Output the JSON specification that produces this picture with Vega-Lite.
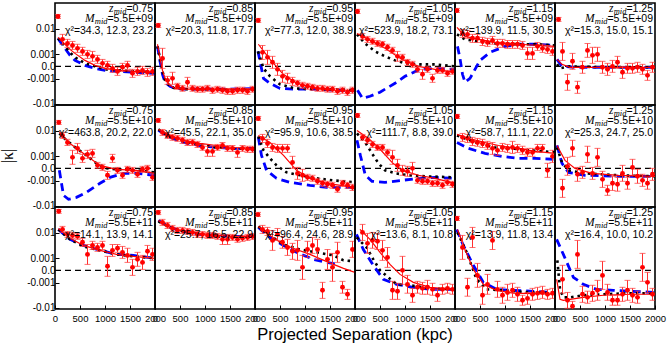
{
"$schema":"https://vega.github.io/schema/vega-lite/v6.json",
"padding":{"left":0,"top":2,"right":8,"bottom":2},
"config":{"view":{"stroke":"black","strokeWidth":1.6},"font":"Liberation Sans"},
"data":{"values":[
{"r":0,"c":0,"x":60,"y":0.0258,"l":0.0223,"h":0.030},{"r":0,"c":0,"x":150,"y":0.0043,"l":0.0028,"h":0.0065},{"r":0,"c":0,"x":250,"y":0.0030,"l":0.0021,"h":0.0043},{"r":0,"c":0,"x":350,"y":0.0025,"l":0.00171,"h":0.0036},{"r":0,"c":0,"x":450,"y":0.0019,"l":0.00124,"h":0.0028},{"r":0,"c":0,"x":550,"y":0.00138,"l":0.00086,"h":0.0021},{"r":0,"c":0,"x":650,"y":0.00098,"l":0.00055,"h":0.00154},{"r":0,"c":0,"x":750,"y":0.00075,"l":0.00031,"h":0.00138},{"r":0,"c":0,"x":850,"y":0.00046,"l":0.00017,"h":0.00086},{"r":0,"c":0,"x":950,"y":0.00017,"l":-0.00005,"h":0.00046},{"r":0,"c":0,"x":1050,"y":0.00005,"l":-0.00017,"h":0.00031},{"r":0,"c":0,"x":1150,"y":-0.00011,"l":-0.00038,"h":0.00011},{"r":0,"c":0,"x":1250,"y":-0.00031,"l":-0.00065,"h":-0.00005},{"r":0,"c":0,"x":1350,"y":-0.00005,"l":-0.00031,"h":0.00017},{"r":0,"c":0,"x":1450,"y":0.00005,"l":-0.00017,"h":0.00031},{"r":0,"c":0,"x":1550,"y":-0.00046,"l":-0.00086,"h":-0.00017},{"r":0,"c":0,"x":1650,"y":-0.00031,"l":-0.00065,"h":-0.00005},{"r":0,"c":0,"x":1750,"y":-0.00024,"l":-0.00055,"h":0},{"r":0,"c":0,"x":1850,"y":-0.00038,"l":-0.00075,"h":-0.00011},{"r":0,"c":0,"x":1950,"y":-0.00031,"l":-0.00065,"h":-0.00005,"zt":"=0.75","mt":"=5.5E+09","ch":"χ²=34.3, 12.3, 23.2"},
{"r":0,"c":1,"x":65,"y":0.0131,"l":0.0112,"h":0.0153},{"r":0,"c":1,"x":150,"y":0.00055,"l":-0.00011,"h":0.0019},{"r":0,"c":1,"x":250,"y":-0.00124,"l":-0.0019,"h":-0.00075},{"r":0,"c":1,"x":350,"y":-0.00098,"l":-0.0019,"h":-0.00038},{"r":0,"c":1,"x":450,"y":-0.0023,"l":-0.0030,"h":-0.00171},{"r":0,"c":1,"x":550,"y":-0.0028,"l":-0.0036,"h":-0.0021},{"r":0,"c":1,"x":650,"y":-0.00154,"l":-0.0025,"h":-0.00086},{"r":0,"c":1,"x":750,"y":-0.0028,"l":-0.0036,"h":-0.0021},{"r":0,"c":1,"x":850,"y":-0.0030,"l":-0.0039,"h":-0.0023},{"r":0,"c":1,"x":950,"y":-0.0030,"l":-0.0039,"h":-0.0023},{"r":0,"c":1,"x":1050,"y":-0.0028,"l":-0.0036,"h":-0.0021},{"r":0,"c":1,"x":1150,"y":-0.0033,"l":-0.0043,"h":-0.0025},{"r":0,"c":1,"x":1250,"y":-0.0030,"l":-0.0039,"h":-0.0023},{"r":0,"c":1,"x":1350,"y":-0.0033,"l":-0.0043,"h":-0.0025},{"r":0,"c":1,"x":1450,"y":-0.0036,"l":-0.0047,"h":-0.0028},{"r":0,"c":1,"x":1550,"y":-0.0036,"l":-0.0047,"h":-0.0028},{"r":0,"c":1,"x":1650,"y":-0.0033,"l":-0.0043,"h":-0.0025},{"r":0,"c":1,"x":1750,"y":-0.0033,"l":-0.0043,"h":-0.0025},{"r":0,"c":1,"x":1850,"y":-0.0036,"l":-0.0047,"h":-0.0028},{"r":0,"c":1,"x":1950,"y":-0.0030,"l":-0.0039,"h":-0.0023,"zt":"=0.85","mt":"=5.5E+09","ch":"χ²=20.3, 11.8, 17.7"},
{"r":0,"c":2,"x":65,"y":0.0192,"l":0.0165,"h":0.0223},{"r":0,"c":2,"x":150,"y":0.00124,"l":0.00046,"h":0.0025},{"r":0,"c":2,"x":250,"y":0.00065,"l":0.00011,"h":0.00154},{"r":0,"c":2,"x":350,"y":0.00024,"l":-0.00011,"h":0.00075},{"r":0,"c":2,"x":450,"y":-0.00017,"l":-0.00065,"h":0.00017},{"r":0,"c":2,"x":550,"y":-0.00075,"l":-0.00154,"h":-0.00024},{"r":0,"c":2,"x":650,"y":-0.00098,"l":-0.00171,"h":-0.00046},{"r":0,"c":2,"x":750,"y":-0.00138,"l":-0.0021,"h":-0.00086},{"r":0,"c":2,"x":850,"y":-0.00171,"l":-0.0023,"h":-0.00124},{"r":0,"c":2,"x":950,"y":-0.0021,"l":-0.0028,"h":-0.00154},{"r":0,"c":2,"x":1050,"y":-0.0023,"l":-0.0030,"h":-0.00171},{"r":0,"c":2,"x":1150,"y":-0.0025,"l":-0.0033,"h":-0.0019},{"r":0,"c":2,"x":1250,"y":-0.0028,"l":-0.0036,"h":-0.0021},{"r":0,"c":2,"x":1350,"y":-0.0028,"l":-0.0036,"h":-0.0021},{"r":0,"c":2,"x":1450,"y":-0.0030,"l":-0.0039,"h":-0.0023},{"r":0,"c":2,"x":1550,"y":-0.0030,"l":-0.0039,"h":-0.0023},{"r":0,"c":2,"x":1650,"y":-0.0036,"l":-0.0047,"h":-0.0028},{"r":0,"c":2,"x":1750,"y":-0.0033,"l":-0.0043,"h":-0.0025},{"r":0,"c":2,"x":1850,"y":-0.0039,"l":-0.0051,"h":-0.0030},{"r":0,"c":2,"x":1950,"y":-0.0033,"l":-0.0043,"h":-0.0025,"zt":"=0.95","mt":"=5.5E+09","ch":"χ²=77.3, 12.0, 38.9"},
{"r":0,"c":3,"x":50,"y":0.0375,"l":0.0323,"h":0.044},{"r":0,"c":3,"x":150,"y":0.0055,"l":0.0043,"h":0.0070},{"r":0,"c":3,"x":250,"y":0.0043,"l":0.0033,"h":0.0055},{"r":0,"c":3,"x":350,"y":0.0036,"l":0.0028,"h":0.0047},{"r":0,"c":3,"x":450,"y":0.0030,"l":0.0023,"h":0.0039},{"r":0,"c":3,"x":550,"y":0.0028,"l":0.0021,"h":0.0036},{"r":0,"c":3,"x":650,"y":0.0021,"l":0.00154,"h":0.0028},{"r":0,"c":3,"x":750,"y":0.00154,"l":0.0011,"h":0.0021},{"r":0,"c":3,"x":850,"y":0.00075,"l":0.00031,"h":0.00138},{"r":0,"c":3,"x":950,"y":0.00065,"l":0.00038,"h":0.00098},{"r":0,"c":3,"x":1050,"y":0.00024,"l":0.00005,"h":0.00046},{"r":0,"c":3,"x":1150,"y":0.00011,"l":-0.00005,"h":0.00031},{"r":0,"c":3,"x":1250,"y":-0.00017,"l":-0.00038,"h":0},{"r":0,"c":3,"x":1350,"y":-0.00055,"l":-0.0011,"h":-0.00017},{"r":0,"c":3,"x":1450,"y":-0.00017,"l":-0.00038,"h":0},{"r":0,"c":3,"x":1550,"y":-0.00098,"l":-0.00154,"h":-0.00055},{"r":0,"c":3,"x":1650,"y":-0.00024,"l":-0.00046,"h":-0.00005},{"r":0,"c":3,"x":1750,"y":-0.00024,"l":-0.00046,"h":-0.00005},{"r":0,"c":3,"x":1850,"y":-0.00046,"l":-0.00075,"h":-0.00024},{"r":0,"c":3,"x":1950,"y":-0.00031,"l":-0.00055,"h":-0.00011,"zt":"=1.05","mt":"=5.5E+09","ch":"χ²=523.9, 18.2, 73.1"},
{"r":0,"c":4,"x":40,"y":0.040,"l":0.035,"h":0.047},{"r":0,"c":4,"x":150,"y":0.0070,"l":0.0051,"h":0.0096},{"r":0,"c":4,"x":250,"y":0.0065,"l":0.0047,"h":0.0089},{"r":0,"c":4,"x":350,"y":0.0047,"l":0.0033,"h":0.0065},{"r":0,"c":4,"x":450,"y":0.0047,"l":0.0033,"h":0.0065},{"r":0,"c":4,"x":550,"y":0.0036,"l":0.0025,"h":0.0051},{"r":0,"c":4,"x":650,"y":0.0033,"l":0.0023,"h":0.0047},{"r":0,"c":4,"x":750,"y":0.0039,"l":0.0028,"h":0.0055},{"r":0,"c":4,"x":850,"y":0.0030,"l":0.0021,"h":0.0043},{"r":0,"c":4,"x":950,"y":0.0030,"l":0.0021,"h":0.0043},{"r":0,"c":4,"x":1050,"y":0.0028,"l":0.0019,"h":0.0039},{"r":0,"c":4,"x":1150,"y":0.0028,"l":0.0019,"h":0.0039},{"r":0,"c":4,"x":1250,"y":0.0028,"l":0.0019,"h":0.0039},{"r":0,"c":4,"x":1350,"y":0.0025,"l":0.00171,"h":0.0036},{"r":0,"c":4,"x":1450,"y":0.0011,"l":0.00046,"h":0.0021},{"r":0,"c":4,"x":1550,"y":0.0011,"l":0.00046,"h":0.0021},{"r":0,"c":4,"x":1650,"y":0.0023,"l":0.00154,"h":0.0033},{"r":0,"c":4,"x":1750,"y":0.0019,"l":0.00124,"h":0.0028},{"r":0,"c":4,"x":1850,"y":0.00171,"l":0.0011,"h":0.0025},{"r":0,"c":4,"x":1950,"y":0.00138,"l":0.00086,"h":0.0021,"zt":"=1.15","mt":"=5.5E+09","ch":"χ²=139.9, 11.5, 30.5"},
{"r":0,"c":5,"x":70,"y":0.0207,"l":0.0178,"h":0.024},{"r":0,"c":5,"x":150,"y":0.00138,"l":0.00038,"h":0.0033},{"r":0,"c":5,"x":250,"y":-0.00154,"l":-0.0033,"h":-0.00055},{"r":0,"c":5,"x":350,"y":0.00031,"l":-0.00017,"h":0.0011},{"r":0,"c":5,"x":450,"y":-0.0025,"l":-0.0043,"h":-0.00138},{"r":0,"c":5,"x":550,"y":-0.00005,"l":-0.00046,"h":0.00031},{"r":0,"c":5,"x":650,"y":0.00154,"l":0.00065,"h":0.0030},{"r":0,"c":5,"x":750,"y":0.00086,"l":0.00017,"h":0.0021},{"r":0,"c":5,"x":850,"y":0.00098,"l":0.00031,"h":0.0021},{"r":0,"c":5,"x":950,"y":-0.00005,"l":-0.00046,"h":0.00031},{"r":0,"c":5,"x":1050,"y":-0.00017,"l":-0.00065,"h":0.00017},{"r":0,"c":5,"x":1150,"y":0,"l":-0.00038,"h":0.00038},{"r":0,"c":5,"x":1250,"y":0.00024,"l":-0.00011,"h":0.00075},{"r":0,"c":5,"x":1350,"y":-0.00038,"l":-0.00098,"h":0},{"r":0,"c":5,"x":1450,"y":-0.00011,"l":-0.00046,"h":0.00017},{"r":0,"c":5,"x":1550,"y":-0.00011,"l":-0.00046,"h":0.00017},{"r":0,"c":5,"x":1650,"y":-0.00005,"l":-0.00038,"h":0.00024},{"r":0,"c":5,"x":1750,"y":-0.00017,"l":-0.00055,"h":0.00011},{"r":0,"c":5,"x":1850,"y":-0.00065,"l":-0.00124,"h":-0.00024},{"r":0,"c":5,"x":1950,"y":-0.00005,"l":-0.00038,"h":0.00024,"zt":"=1.25","mt":"=5.5E+09","ch":"χ²=15.3, 15.0, 15.1"},
{"r":1,"c":0,"x":75,"y":0.0192,"l":0.0165,"h":0.0223},{"r":1,"c":0,"x":150,"y":0.0070,"l":0.0055,"h":0.0089},{"r":1,"c":0,"x":250,"y":0.0039,"l":0.0030,"h":0.0051},{"r":1,"c":0,"x":350,"y":0.00086,"l":0.00024,"h":0.0019},{"r":1,"c":0,"x":450,"y":0.0023,"l":0.00138,"h":0.0036},{"r":1,"c":0,"x":550,"y":0.00075,"l":0.00038,"h":0.00124},{"r":1,"c":0,"x":650,"y":0.00124,"l":0.00075,"h":0.0019},{"r":1,"c":0,"x":750,"y":0.00138,"l":0.00086,"h":0.0021},{"r":1,"c":0,"x":850,"y":0.00017,"l":0,"h":0.00038},{"r":1,"c":0,"x":950,"y":0.00005,"l":-0.00011,"h":0.00024},{"r":1,"c":0,"x":1050,"y":-0.00046,"l":-0.00086,"h":-0.00017},{"r":1,"c":0,"x":1150,"y":0.00075,"l":0.00038,"h":0.00124},{"r":1,"c":0,"x":1250,"y":-0.00011,"l":-0.00031,"h":0.00005},{"r":1,"c":0,"x":1350,"y":-0.00046,"l":-0.00075,"h":-0.00024},{"r":1,"c":0,"x":1450,"y":-0.00005,"l":-0.00024,"h":0.00011},{"r":1,"c":0,"x":1550,"y":-0.00011,"l":-0.00031,"h":0.00005},{"r":1,"c":0,"x":1650,"y":-0.00038,"l":-0.00065,"h":-0.00017},{"r":1,"c":0,"x":1750,"y":-0.00005,"l":-0.00024,"h":0.00011},{"r":1,"c":0,"x":1850,"y":0,"l":-0.00017,"h":0.00017},{"r":1,"c":0,"x":1950,"y":-0.00065,"l":-0.00098,"h":-0.00038,"zt":"=0.75","mt":"=5.5E+10","ch":"χ²=463.8, 20.2, 22.0"},
{"r":1,"c":1,"x":65,"y":0.0223,"l":0.0192,"h":0.0258},{"r":1,"c":1,"x":150,"y":0.0089,"l":0.0070,"h":0.0112},{"r":1,"c":1,"x":250,"y":0.0070,"l":0.0055,"h":0.0089},{"r":1,"c":1,"x":350,"y":0.0060,"l":0.0047,"h":0.0076},{"r":1,"c":1,"x":450,"y":0.0055,"l":0.0043,"h":0.0070},{"r":1,"c":1,"x":550,"y":0.0047,"l":0.0036,"h":0.0060},{"r":1,"c":1,"x":650,"y":0.0039,"l":0.0030,"h":0.0051},{"r":1,"c":1,"x":750,"y":0.0039,"l":0.0030,"h":0.0051},{"r":1,"c":1,"x":850,"y":0.0033,"l":0.0025,"h":0.0043},{"r":1,"c":1,"x":950,"y":0.0025,"l":0.0019,"h":0.0033},{"r":1,"c":1,"x":1050,"y":0.00171,"l":0.00098,"h":0.0028},{"r":1,"c":1,"x":1150,"y":0.00171,"l":0.00098,"h":0.0028},{"r":1,"c":1,"x":1250,"y":0.0025,"l":0.0019,"h":0.0033},{"r":1,"c":1,"x":1350,"y":0.0030,"l":0.0023,"h":0.0039},{"r":1,"c":1,"x":1450,"y":0.0023,"l":0.00171,"h":0.0030},{"r":1,"c":1,"x":1550,"y":0.0023,"l":0.00171,"h":0.0030},{"r":1,"c":1,"x":1650,"y":0.00154,"l":0.00086,"h":0.0025},{"r":1,"c":1,"x":1750,"y":0.0023,"l":0.00171,"h":0.0030},{"r":1,"c":1,"x":1850,"y":0.0021,"l":0.00154,"h":0.0028},{"r":1,"c":1,"x":1950,"y":0.0021,"l":0.00154,"h":0.0028,"zt":"=0.85","mt":"=5.5E+10","ch":"χ²=45.5, 22.1, 35.0"},
{"r":1,"c":2,"x":65,"y":0.0258,"l":0.0223,"h":0.030},{"r":1,"c":2,"x":150,"y":0.0055,"l":0.0039,"h":0.0076},{"r":1,"c":2,"x":250,"y":0.0036,"l":0.0025,"h":0.0051},{"r":1,"c":2,"x":350,"y":0.0025,"l":0.00171,"h":0.0036},{"r":1,"c":2,"x":450,"y":0.0023,"l":0.00154,"h":0.0033},{"r":1,"c":2,"x":550,"y":0.0023,"l":0.00154,"h":0.0033},{"r":1,"c":2,"x":650,"y":0.0023,"l":0.00154,"h":0.0033},{"r":1,"c":2,"x":750,"y":0.00038,"l":0,"h":0.00098},{"r":1,"c":2,"x":850,"y":-0.00031,"l":-0.00086,"h":0.00005},{"r":1,"c":2,"x":950,"y":-0.00046,"l":-0.0011,"h":-0.00005},{"r":1,"c":2,"x":1050,"y":-0.00065,"l":-0.00098,"h":-0.00038},{"r":1,"c":2,"x":1150,"y":-0.00075,"l":-0.0011,"h":-0.00046},{"r":1,"c":2,"x":1250,"y":-0.0011,"l":-0.00154,"h":-0.00075},{"r":1,"c":2,"x":1350,"y":-0.00138,"l":-0.0019,"h":-0.00098},{"r":1,"c":2,"x":1450,"y":-0.00154,"l":-0.0021,"h":-0.0011},{"r":1,"c":2,"x":1550,"y":-0.00171,"l":-0.0023,"h":-0.00124},{"r":1,"c":2,"x":1650,"y":-0.0025,"l":-0.0033,"h":-0.0019},{"r":1,"c":2,"x":1750,"y":-0.00138,"l":-0.0019,"h":-0.00098},{"r":1,"c":2,"x":1850,"y":-0.00171,"l":-0.0023,"h":-0.00124},{"r":1,"c":2,"x":1950,"y":-0.0021,"l":-0.0028,"h":-0.00154,"zt":"=0.95","mt":"=5.5E+10","ch":"χ²=95.9, 10.6, 38.5"},
{"r":1,"c":3,"x":50,"y":0.0323,"l":0.028,"h":0.0375},{"r":1,"c":3,"x":150,"y":0.0060,"l":0.0047,"h":0.0076},{"r":1,"c":3,"x":250,"y":0.0047,"l":0.0036,"h":0.0060},{"r":1,"c":3,"x":350,"y":0.0033,"l":0.0025,"h":0.0043},{"r":1,"c":3,"x":450,"y":0.0025,"l":0.0019,"h":0.0033},{"r":1,"c":3,"x":550,"y":0.0025,"l":0.0019,"h":0.0033},{"r":1,"c":3,"x":650,"y":0.00154,"l":0.0011,"h":0.0021},{"r":1,"c":3,"x":750,"y":0.00086,"l":0.00024,"h":0.0019},{"r":1,"c":3,"x":850,"y":0.00017,"l":-0.00017,"h":0.00065},{"r":1,"c":3,"x":950,"y":-0.00011,"l":-0.00046,"h":0.00017},{"r":1,"c":3,"x":1050,"y":-0.00017,"l":-0.00055,"h":0.00011},{"r":1,"c":3,"x":1150,"y":0,"l":-0.00038,"h":0.00038},{"r":1,"c":3,"x":1250,"y":-0.00098,"l":-0.00138,"h":-0.00065},{"r":1,"c":3,"x":1350,"y":-0.0011,"l":-0.00154,"h":-0.00075},{"r":1,"c":3,"x":1450,"y":-0.0011,"l":-0.00154,"h":-0.00075},{"r":1,"c":3,"x":1550,"y":-0.00138,"l":-0.0019,"h":-0.00098},{"r":1,"c":3,"x":1650,"y":-0.00138,"l":-0.0019,"h":-0.00098},{"r":1,"c":3,"x":1750,"y":-0.00171,"l":-0.0023,"h":-0.00124},{"r":1,"c":3,"x":1850,"y":-0.00124,"l":-0.00171,"h":-0.00086},{"r":1,"c":3,"x":1950,"y":-0.00154,"l":-0.0021,"h":-0.0011,"zt":"=1.05","mt":"=5.5E+10","ch":"χ²=111.7, 8.8, 39.0"},
{"r":1,"c":4,"x":45,"y":0.030,"l":0.0258,"h":0.035},{"r":1,"c":4,"x":150,"y":0.0060,"l":0.0043,"h":0.0082},{"r":1,"c":4,"x":250,"y":0.0055,"l":0.0039,"h":0.0076},{"r":1,"c":4,"x":350,"y":0.0043,"l":0.0030,"h":0.0060},{"r":1,"c":4,"x":450,"y":0.0039,"l":0.0028,"h":0.0055},{"r":1,"c":4,"x":550,"y":0.0036,"l":0.0025,"h":0.0051},{"r":1,"c":4,"x":650,"y":0.0030,"l":0.0021,"h":0.0043},{"r":1,"c":4,"x":750,"y":0.0023,"l":0.00124,"h":0.0039},{"r":1,"c":4,"x":850,"y":0.0019,"l":0.0011,"h":0.0030},{"r":1,"c":4,"x":950,"y":0.0025,"l":0.00171,"h":0.0036},{"r":1,"c":4,"x":1050,"y":0.0023,"l":0.00154,"h":0.0033},{"r":1,"c":4,"x":1150,"y":0.0025,"l":0.00138,"h":0.0043},{"r":1,"c":4,"x":1250,"y":0.0023,"l":0.00154,"h":0.0033},{"r":1,"c":4,"x":1350,"y":0.0019,"l":0.00124,"h":0.0028},{"r":1,"c":4,"x":1450,"y":0.00154,"l":0.00098,"h":0.0023},{"r":1,"c":4,"x":1550,"y":0.00154,"l":0.00098,"h":0.0023},{"r":1,"c":4,"x":1650,"y":0.0023,"l":0.00154,"h":0.0033},{"r":1,"c":4,"x":1750,"y":0.0023,"l":0.00154,"h":0.0033},{"r":1,"c":4,"x":1850,"y":-0.00011,"l":-0.00065,"h":0.00031},{"r":1,"c":4,"x":1950,"y":0.00098,"l":0.00038,"h":0.0019,"zt":"=1.15","mt":"=5.5E+10","ch":"χ²=58.7, 11.1, 22.0"},
{"r":1,"c":5,"x":150,"y":-0.0023,"l":-0.0051,"h":-0.00086},{"r":1,"c":5,"x":250,"y":0.00011,"l":-0.00046,"h":0.00086},{"r":1,"c":5,"x":350,"y":0.0023,"l":0.00098,"h":0.0047},{"r":1,"c":5,"x":450,"y":-0.00038,"l":-0.0011,"h":0.00005},{"r":1,"c":5,"x":550,"y":-0.00024,"l":-0.00075,"h":0.00011},{"r":1,"c":5,"x":650,"y":0.00124,"l":0.00038,"h":0.0028},{"r":1,"c":5,"x":750,"y":-0.00031,"l":-0.00086,"h":0.00005},{"r":1,"c":5,"x":850,"y":0.00086,"l":0.00011,"h":0.0023},{"r":1,"c":5,"x":950,"y":-0.00086,"l":-0.0021,"h":-0.00017},{"r":1,"c":5,"x":1050,"y":-0.0028,"l":-0.0043,"h":-0.00171},{"r":1,"c":5,"x":1150,"y":-0.00138,"l":-0.0028,"h":-0.00055},{"r":1,"c":5,"x":1250,"y":-0.00154,"l":-0.0030,"h":-0.00065},{"r":1,"c":5,"x":1350,"y":-0.00031,"l":-0.0011,"h":0.00017},{"r":1,"c":5,"x":1450,"y":-0.00138,"l":-0.0025,"h":-0.00065},{"r":1,"c":5,"x":1550,"y":0.00005,"l":-0.00046,"h":0.00065},{"r":1,"c":5,"x":1650,"y":-0.00055,"l":-0.00138,"h":-0.00005},{"r":1,"c":5,"x":1750,"y":-0.00098,"l":-0.0019,"h":-0.00038},{"r":1,"c":5,"x":1850,"y":-0.00138,"l":-0.0025,"h":-0.00065},{"r":1,"c":5,"x":1950,"y":-0.00038,"l":-0.00098,"h":0,"zt":"=1.25","mt":"=5.5E+10","ch":"χ²=25.3, 24.7, 25.0"},
{"r":2,"c":0,"x":75,"y":0.051,"l":0.044,"h":0.0585},{"r":2,"c":0,"x":150,"y":0.0131,"l":0.0104,"h":0.0165},{"r":2,"c":0,"x":250,"y":0.0089,"l":0.0070,"h":0.0112},{"r":2,"c":0,"x":350,"y":0.0082,"l":0.0065,"h":0.0104},{"r":2,"c":0,"x":450,"y":0.0076,"l":0.0060,"h":0.0096},{"r":2,"c":0,"x":550,"y":0.0047,"l":0.0033,"h":0.0065},{"r":2,"c":0,"x":650,"y":0.00154,"l":0.00038,"h":0.0039},{"r":2,"c":0,"x":750,"y":0.0036,"l":0.0025,"h":0.0051},{"r":2,"c":0,"x":850,"y":0.0030,"l":0.0021,"h":0.0043},{"r":2,"c":0,"x":950,"y":0.0036,"l":0.0025,"h":0.0051},{"r":2,"c":0,"x":1050,"y":0.00024,"l":-0.00038,"h":0.00124},{"r":2,"c":0,"x":1150,"y":0.0023,"l":0.00124,"h":0.0039},{"r":2,"c":0,"x":1250,"y":0.0028,"l":0.0019,"h":0.0039},{"r":2,"c":0,"x":1350,"y":0.0019,"l":0.00098,"h":0.0033},{"r":2,"c":0,"x":1450,"y":0.00138,"l":0.00055,"h":0.0028},{"r":2,"c":0,"x":1550,"y":0.00017,"l":-0.00031,"h":0.00086},{"r":2,"c":0,"x":1650,"y":0.00086,"l":0.00024,"h":0.0019},{"r":2,"c":0,"x":1750,"y":0.00055,"l":0.00005,"h":0.00138},{"r":2,"c":0,"x":1850,"y":0.0021,"l":0.0011,"h":0.0036},{"r":2,"c":0,"x":1950,"y":0.00154,"l":0.00075,"h":0.0028,"zt":"=0.75","mt":"=5.5E+11","ch":"χ²=14.1, 13.9, 14.1"},
{"r":2,"c":1,"x":65,"y":0.047,"l":0.040,"h":0.054},{"r":2,"c":1,"x":150,"y":0.0223,"l":0.0178,"h":0.028},{"r":2,"c":1,"x":250,"y":0.0178,"l":0.0141,"h":0.0223},{"r":2,"c":1,"x":350,"y":0.0141,"l":0.0112,"h":0.0178},{"r":2,"c":1,"x":450,"y":0.0121,"l":0.0096,"h":0.0153},{"r":2,"c":1,"x":550,"y":0.0121,"l":0.0096,"h":0.0153},{"r":2,"c":1,"x":650,"y":0.0112,"l":0.0089,"h":0.0141},{"r":2,"c":1,"x":750,"y":0.0104,"l":0.0082,"h":0.0131},{"r":2,"c":1,"x":850,"y":0.0089,"l":0.0070,"h":0.0112},{"r":2,"c":1,"x":950,"y":0.0089,"l":0.0070,"h":0.0112},{"r":2,"c":1,"x":1050,"y":0.0082,"l":0.0065,"h":0.0104},{"r":2,"c":1,"x":1150,"y":0.0082,"l":0.0065,"h":0.0104},{"r":2,"c":1,"x":1250,"y":0.0076,"l":0.0060,"h":0.0096},{"r":2,"c":1,"x":1350,"y":0.0060,"l":0.0039,"h":0.0089},{"r":2,"c":1,"x":1450,"y":0.0060,"l":0.0039,"h":0.0089},{"r":2,"c":1,"x":1550,"y":0.0070,"l":0.0055,"h":0.0089},{"r":2,"c":1,"x":1650,"y":0.0060,"l":0.0047,"h":0.0076},{"r":2,"c":1,"x":1750,"y":0.0065,"l":0.0051,"h":0.0082},{"r":2,"c":1,"x":1850,"y":0.0070,"l":0.0055,"h":0.0089},{"r":2,"c":1,"x":1950,"y":0.0076,"l":0.0060,"h":0.0096,"zt":"=0.85","mt":"=5.5E+11","ch":"χ²=25.7, 16.5, 22.9"},
{"r":2,"c":2,"x":60,"y":0.040,"l":0.035,"h":0.047},{"r":2,"c":2,"x":150,"y":0.0131,"l":0.0096,"h":0.0178},{"r":2,"c":2,"x":250,"y":0.0112,"l":0.0082,"h":0.0153},{"r":2,"c":2,"x":350,"y":0.0055,"l":0.0023,"h":0.0121},{"r":2,"c":2,"x":450,"y":0.0089,"l":0.0055,"h":0.0141},{"r":2,"c":2,"x":550,"y":0.0047,"l":0.0028,"h":0.0076},{"r":2,"c":2,"x":650,"y":0.0030,"l":0.00138,"h":0.0060},{"r":2,"c":2,"x":750,"y":0.0021,"l":0.00086,"h":0.0043},{"r":2,"c":2,"x":850,"y":0.0023,"l":0.00075,"h":0.0055},{"r":2,"c":2,"x":950,"y":0.00017,"l":-0.00065,"h":0.00138},{"r":2,"c":2,"x":1050,"y":0.0025,"l":0.0011,"h":0.0051},{"r":2,"c":2,"x":1150,"y":0.0036,"l":0.00171,"h":0.0070},{"r":2,"c":2,"x":1250,"y":0.0025,"l":0.00086,"h":0.0060},{"r":2,"c":2,"x":1350,"y":-0.0023,"l":-0.0047,"h":-0.00098},{"r":2,"c":2,"x":1450,"y":0.00086,"l":0.00005,"h":0.0025},{"r":2,"c":2,"x":1550,"y":0.00017,"l":-0.00086,"h":0.00171},{"r":2,"c":2,"x":1650,"y":0.0019,"l":0.00055,"h":0.0047},{"r":2,"c":2,"x":1750,"y":-0.00171,"l":-0.0030,"h":-0.00086},{"r":2,"c":2,"x":1850,"y":-0.0033,"l":-0.0051,"h":-0.0021},{"r":2,"c":2,"x":1950,"y":0.0025,"l":0.0011,"h":0.0051,"zt":"=0.95","mt":"=5.5E+11","ch":"χ²=96.4, 24.6, 28.9"},
{"r":2,"c":3,"x":150,"y":0.0104,"l":0.0055,"h":0.0192},{"r":2,"c":3,"x":250,"y":0.0043,"l":0.00171,"h":0.0096},{"r":2,"c":3,"x":350,"y":0.0055,"l":0.0028,"h":0.0104},{"r":2,"c":3,"x":450,"y":0.0051,"l":0.0025,"h":0.0096},{"r":2,"c":3,"x":550,"y":0.0023,"l":0.00075,"h":0.0055},{"r":2,"c":3,"x":650,"y":0.0011,"l":0.00017,"h":0.0030},{"r":2,"c":3,"x":750,"y":-0.0023,"l":-0.0051,"h":-0.00086},{"r":2,"c":3,"x":850,"y":-0.0025,"l":-0.0051,"h":-0.0011},{"r":2,"c":3,"x":950,"y":0,"l":-0.00124,"h":0.00124},{"r":2,"c":3,"x":1050,"y":-0.00124,"l":-0.0030,"h":-0.00031},{"r":2,"c":3,"x":1150,"y":-0.0036,"l":-0.0065,"h":-0.0019},{"r":2,"c":3,"x":1250,"y":-0.00171,"l":-0.0030,"h":-0.00086},{"r":2,"c":3,"x":1350,"y":-0.0019,"l":-0.0033,"h":-0.00098},{"r":2,"c":3,"x":1450,"y":-0.00171,"l":-0.0033,"h":-0.00075},{"r":2,"c":3,"x":1550,"y":-0.0021,"l":-0.0036,"h":-0.0011},{"r":2,"c":3,"x":1650,"y":-0.0036,"l":-0.0060,"h":-0.0021},{"r":2,"c":3,"x":1750,"y":-0.0021,"l":-0.0033,"h":-0.00124},{"r":2,"c":3,"x":1850,"y":-0.0019,"l":-0.0030,"h":-0.0011},{"r":2,"c":3,"x":1950,"y":-0.0021,"l":-0.0033,"h":-0.00124,"zt":"=1.05","mt":"=5.5E+11","ch":"χ²=13.6, 8.1, 10.8"},
{"r":2,"c":4,"x":40,"y":0.030,"l":0.0258,"h":0.035},{"r":2,"c":4,"x":150,"y":0.0030,"l":0.00086,"h":0.0082},{"r":2,"c":4,"x":250,"y":-0.00171,"l":-0.0039,"h":-0.00055},{"r":2,"c":4,"x":350,"y":0.0070,"l":0.0030,"h":0.0153},{"r":2,"c":4,"x":450,"y":-0.00031,"l":-0.00171,"h":0.00046},{"r":2,"c":4,"x":550,"y":-0.0036,"l":-0.0076,"h":-0.00154},{"r":2,"c":4,"x":650,"y":-0.00124,"l":-0.0033,"h":-0.00024},{"r":2,"c":4,"x":750,"y":0.0055,"l":0.0025,"h":0.0112},{"r":2,"c":4,"x":850,"y":-0.0021,"l":-0.0043,"h":-0.00086},{"r":2,"c":4,"x":950,"y":-0.0036,"l":-0.0070,"h":-0.00171},{"r":2,"c":4,"x":1050,"y":-0.0028,"l":-0.0055,"h":-0.00124},{"r":2,"c":4,"x":1150,"y":-0.0023,"l":-0.0043,"h":-0.0011},{"r":2,"c":4,"x":1250,"y":-0.0033,"l":-0.0060,"h":-0.00171},{"r":2,"c":4,"x":1350,"y":-0.0055,"l":-0.0082,"h":-0.0036},{"r":2,"c":4,"x":1450,"y":-0.0047,"l":-0.0076,"h":-0.0028},{"r":2,"c":4,"x":1550,"y":-0.0033,"l":-0.0055,"h":-0.0019},{"r":2,"c":4,"x":1650,"y":-0.0030,"l":-0.0051,"h":-0.00171},{"r":2,"c":4,"x":1750,"y":-0.0028,"l":-0.0047,"h":-0.00154},{"r":2,"c":4,"x":1850,"y":-0.0033,"l":-0.0051,"h":-0.0021},{"r":2,"c":4,"x":1950,"y":-0.0030,"l":-0.0047,"h":-0.0019,"zt":"=1.15","mt":"=5.5E+11","ch":"χ²=13.9, 11.8, 13.4"},
{"r":2,"c":5,"x":150,"y":-0.00065,"l":-0.0030,"h":0.00031},{"r":2,"c":5,"x":250,"y":-0.0055,"l":-0.0104,"h":-0.0028},{"r":2,"c":5,"x":350,"y":-0.0089,"l":-0.0131,"h":-0.0060},{"r":2,"c":5,"x":450,"y":0.00154,"l":0.00011,"h":0.0055},{"r":2,"c":5,"x":550,"y":-0.0033,"l":-0.0065,"h":-0.00154},{"r":2,"c":5,"x":650,"y":-0.0043,"l":-0.0070,"h":-0.0025},{"r":2,"c":5,"x":750,"y":-0.0030,"l":-0.0060,"h":-0.00138},{"r":2,"c":5,"x":850,"y":-0.0023,"l":-0.0055,"h":-0.00075},{"r":2,"c":5,"x":950,"y":-0.00031,"l":-0.0021,"h":0.00065},{"r":2,"c":5,"x":1050,"y":-0.0028,"l":-0.0055,"h":-0.00124},{"r":2,"c":5,"x":1150,"y":-0.0055,"l":-0.0082,"h":-0.0036},{"r":2,"c":5,"x":1250,"y":-0.0055,"l":-0.0082,"h":-0.0036},{"r":2,"c":5,"x":1350,"y":-0.0033,"l":-0.0060,"h":-0.00171},{"r":2,"c":5,"x":1450,"y":-0.0023,"l":-0.0055,"h":-0.00075},{"r":2,"c":5,"x":1550,"y":-0.0036,"l":-0.0065,"h":-0.0019},{"r":2,"c":5,"x":1650,"y":-0.0043,"l":-0.0070,"h":-0.0025},{"r":2,"c":5,"x":1750,"y":0.00017,"l":-0.00086,"h":0.00171},{"r":2,"c":5,"x":1850,"y":-0.00098,"l":-0.0028,"h":-0.00011},{"r":2,"c":5,"x":1950,"y":-0.0033,"l":-0.0055,"h":-0.0019,"zt":"=1.25","mt":"=5.5E+11","ch":"χ²=16.4, 10.0, 10.2"},
{"s":"b","r":0,"c":0,"x":60,"y":0.0047},{"s":"b","r":0,"c":0,"x":100,"y":0.0036},{"s":"b","r":0,"c":0,"x":200,"y":0.0019},{"s":"b","r":0,"c":0,"x":300,"y":0.00086},{"s":"b","r":0,"c":0,"x":400,"y":0.00038},{"s":"b","r":0,"c":0,"x":600,"y":0.00005},{"s":"b","r":0,"c":0,"x":800,"y":-0.00011},{"s":"b","r":0,"c":0,"x":1000,"y":-0.00024},{"s":"b","r":0,"c":0,"x":1300,"y":-0.00031},{"s":"b","r":0,"c":0,"x":1600,"y":-0.00038},{"s":"b","r":0,"c":0,"x":2000,"y":-0.00046},
{"s":"k","r":0,"c":0,"x":60,"y":0.0047},{"s":"k","r":0,"c":0,"x":100,"y":0.0039},{"s":"k","r":0,"c":0,"x":200,"y":0.0023},{"s":"k","r":0,"c":0,"x":300,"y":0.00124},{"s":"k","r":0,"c":0,"x":400,"y":0.00065},{"s":"k","r":0,"c":0,"x":600,"y":0.00017},{"s":"k","r":0,"c":0,"x":800,"y":0},{"s":"k","r":0,"c":0,"x":1000,"y":-0.00017},{"s":"k","r":0,"c":0,"x":1300,"y":-0.00024},{"s":"k","r":0,"c":0,"x":1600,"y":-0.00031},{"s":"k","r":0,"c":0,"x":2000,"y":-0.00038},
{"s":"r","r":0,"c":0,"x":60,"y":0.0051},{"s":"r","r":0,"c":0,"x":100,"y":0.0043},{"s":"r","r":0,"c":0,"x":200,"y":0.0028},{"s":"r","r":0,"c":0,"x":300,"y":0.00171},{"s":"r","r":0,"c":0,"x":400,"y":0.0011},{"s":"r","r":0,"c":0,"x":600,"y":0.00038},{"s":"r","r":0,"c":0,"x":800,"y":0.00005},{"s":"r","r":0,"c":0,"x":1000,"y":-0.00011},{"s":"r","r":0,"c":0,"x":1300,"y":-0.00024},{"s":"r","r":0,"c":0,"x":1600,"y":-0.00031},{"s":"r","r":0,"c":0,"x":2000,"y":-0.00038},
{"s":"b","r":0,"c":1,"x":50,"y":0.0023},{"s":"b","r":0,"c":1,"x":100,"y":0.00031},{"s":"b","r":0,"c":1,"x":150,"y":-0.00055},{"s":"b","r":0,"c":1,"x":200,"y":-0.00154},{"s":"b","r":0,"c":1,"x":300,"y":-0.0023},{"s":"b","r":0,"c":1,"x":400,"y":-0.0028},{"s":"b","r":0,"c":1,"x":600,"y":-0.0030},{"s":"b","r":0,"c":1,"x":1000,"y":-0.0030},{"s":"b","r":0,"c":1,"x":1500,"y":-0.0030},{"s":"b","r":0,"c":1,"x":2000,"y":-0.0028},
{"s":"k","r":0,"c":1,"x":50,"y":0.0023},{"s":"k","r":0,"c":1,"x":100,"y":0.00055},{"s":"k","r":0,"c":1,"x":150,"y":-0.00031},{"s":"k","r":0,"c":1,"x":200,"y":-0.00124},{"s":"k","r":0,"c":1,"x":300,"y":-0.0023},{"s":"k","r":0,"c":1,"x":400,"y":-0.0028},{"s":"k","r":0,"c":1,"x":600,"y":-0.0030},{"s":"k","r":0,"c":1,"x":1000,"y":-0.0030},{"s":"k","r":0,"c":1,"x":1500,"y":-0.0030},{"s":"k","r":0,"c":1,"x":2000,"y":-0.0030},
{"s":"r","r":0,"c":1,"x":50,"y":0.0028},{"s":"r","r":0,"c":1,"x":100,"y":0.00055},{"s":"r","r":0,"c":1,"x":150,"y":-0.00024},{"s":"r","r":0,"c":1,"x":200,"y":-0.00098},{"s":"r","r":0,"c":1,"x":300,"y":-0.0021},{"s":"r","r":0,"c":1,"x":400,"y":-0.0028},{"s":"r","r":0,"c":1,"x":600,"y":-0.0030},{"s":"r","r":0,"c":1,"x":1000,"y":-0.0030},{"s":"r","r":0,"c":1,"x":1500,"y":-0.0030},{"s":"r","r":0,"c":1,"x":2000,"y":-0.0030},
{"s":"b","r":0,"c":2,"x":60,"y":0.00138},{"s":"b","r":0,"c":2,"x":170,"y":-0.00098},{"s":"b","r":0,"c":2,"x":300,"y":-0.00171},{"s":"b","r":0,"c":2,"x":500,"y":-0.0028},{"s":"b","r":0,"c":2,"x":800,"y":-0.0030},{"s":"b","r":0,"c":2,"x":1200,"y":-0.0030},{"s":"b","r":0,"c":2,"x":1600,"y":-0.0033},{"s":"b","r":0,"c":2,"x":2000,"y":-0.0033},
{"s":"k","r":0,"c":2,"x":60,"y":0.00138},{"s":"k","r":0,"c":2,"x":120,"y":0.00038},{"s":"k","r":0,"c":2,"x":170,"y":-0.00011},{"s":"k","r":0,"c":2,"x":300,"y":-0.00075},{"s":"k","r":0,"c":2,"x":500,"y":-0.0019},{"s":"k","r":0,"c":2,"x":800,"y":-0.0028},{"s":"k","r":0,"c":2,"x":1200,"y":-0.0030},{"s":"k","r":0,"c":2,"x":1600,"y":-0.0030},{"s":"k","r":0,"c":2,"x":2000,"y":-0.0033},
{"s":"r","r":0,"c":2,"x":67,"y":0.0028},{"s":"r","r":0,"c":2,"x":300,"y":0.00046},{"s":"r","r":0,"c":2,"x":567,"y":-0.00055},{"s":"r","r":0,"c":2,"x":833,"y":-0.00171},{"s":"r","r":0,"c":2,"x":1233,"y":-0.0028},{"s":"r","r":0,"c":2,"x":1600,"y":-0.0033},{"s":"r","r":0,"c":2,"x":2000,"y":-0.0036},
{"s":"b","r":0,"c":3,"x":50,"y":-0.0033},{"s":"b","r":0,"c":3,"x":150,"y":-0.0065},{"s":"b","r":0,"c":3,"x":300,"y":-0.0055},{"s":"b","r":0,"c":3,"x":500,"y":-0.0039},{"s":"b","r":0,"c":3,"x":800,"y":-0.00171},{"s":"b","r":0,"c":3,"x":1000,"y":-0.00075},{"s":"b","r":0,"c":3,"x":1300,"y":-0.00017},{"s":"b","r":0,"c":3,"x":1600,"y":-0.00011},{"s":"b","r":0,"c":3,"x":2000,"y":-0.00017},
{"s":"k","r":0,"c":3,"x":40,"y":0.0065},{"s":"k","r":0,"c":3,"x":200,"y":0.0030},{"s":"k","r":0,"c":3,"x":400,"y":0.00138},{"s":"k","r":0,"c":3,"x":600,"y":0.00075},{"s":"k","r":0,"c":3,"x":800,"y":0.00038},{"s":"k","r":0,"c":3,"x":1000,"y":0.00017},{"s":"k","r":0,"c":3,"x":1300,"y":0.00011},{"s":"k","r":0,"c":3,"x":1600,"y":0.00011},{"s":"k","r":0,"c":3,"x":2000,"y":0},
{"s":"r","r":0,"c":3,"x":40,"y":0.0070},{"s":"r","r":0,"c":3,"x":270,"y":0.0043},{"s":"r","r":0,"c":3,"x":600,"y":0.0019},{"s":"r","r":0,"c":3,"x":940,"y":0.00046},{"s":"r","r":0,"c":3,"x":1270,"y":0},{"s":"r","r":0,"c":3,"x":1600,"y":-0.00017},{"s":"r","r":0,"c":3,"x":2000,"y":-0.00038},
{"s":"b","r":0,"c":4,"x":50,"y":0.0023},{"s":"b","r":0,"c":4,"x":100,"y":0.00055},{"s":"b","r":0,"c":4,"x":150,"y":-0.00055},{"s":"b","r":0,"c":4,"x":200,"y":-0.00154},{"s":"b","r":0,"c":4,"x":300,"y":-0.00098},{"s":"b","r":0,"c":4,"x":400,"y":-0.00017},{"s":"b","r":0,"c":4,"x":500,"y":0.00038},{"s":"b","r":0,"c":4,"x":700,"y":0.00124},{"s":"b","r":0,"c":4,"x":1000,"y":0.0023},{"s":"b","r":0,"c":4,"x":1300,"y":0.0028},{"s":"b","r":0,"c":4,"x":1600,"y":0.0028},{"s":"b","r":0,"c":4,"x":2000,"y":0.0025},
{"s":"k","r":0,"c":4,"x":40,"y":0.0065},{"s":"k","r":0,"c":4,"x":200,"y":0.0043},{"s":"k","r":0,"c":4,"x":470,"y":0.0036},{"s":"k","r":0,"c":4,"x":800,"y":0.0030},{"s":"k","r":0,"c":4,"x":1270,"y":0.0028},{"s":"k","r":0,"c":4,"x":1670,"y":0.0028},{"s":"k","r":0,"c":4,"x":2000,"y":0.0025},
{"s":"r","r":0,"c":4,"x":40,"y":0.0112},{"s":"r","r":0,"c":4,"x":200,"y":0.0055},{"s":"r","r":0,"c":4,"x":470,"y":0.0043},{"s":"r","r":0,"c":4,"x":800,"y":0.0033},{"s":"r","r":0,"c":4,"x":1270,"y":0.0028},{"s":"r","r":0,"c":4,"x":2000,"y":0.0023},
{"s":"b","r":0,"c":5,"x":40,"y":0.00046},{"s":"b","r":0,"c":5,"x":140,"y":0},{"s":"b","r":0,"c":5,"x":400,"y":-0.00005},{"s":"b","r":0,"c":5,"x":1000,"y":-0.00005},{"s":"b","r":0,"c":5,"x":2000,"y":-0.00005},
{"s":"k","r":0,"c":5,"x":40,"y":0.00011},{"s":"k","r":0,"c":5,"x":100,"y":-0.00011},{"s":"k","r":0,"c":5,"x":300,"y":0},{"s":"k","r":0,"c":5,"x":1000,"y":-0.00005},{"s":"k","r":0,"c":5,"x":2000,"y":-0.00005},
{"s":"r","r":0,"c":5,"x":40,"y":0.00046},{"s":"r","r":0,"c":5,"x":140,"y":0.00011},{"s":"r","r":0,"c":5,"x":300,"y":-0.00005},{"s":"r","r":0,"c":5,"x":1000,"y":-0.00005},{"s":"r","r":0,"c":5,"x":2000,"y":-0.00005},
{"s":"b","r":1,"c":0,"x":87,"y":-0.00011},{"s":"b","r":1,"c":0,"x":170,"y":-0.0043},{"s":"b","r":1,"c":0,"x":270,"y":-0.0060},{"s":"b","r":1,"c":0,"x":430,"y":-0.0051},{"s":"b","r":1,"c":0,"x":630,"y":-0.0033},{"s":"b","r":1,"c":0,"x":900,"y":-0.00138},{"s":"b","r":1,"c":0,"x":1100,"y":-0.00065},{"s":"b","r":1,"c":0,"x":1370,"y":-0.00031},{"s":"b","r":1,"c":0,"x":1630,"y":-0.00031},{"s":"b","r":1,"c":0,"x":2000,"y":-0.00046},
{"s":"k","r":1,"c":0,"x":87,"y":0.0082},{"s":"k","r":1,"c":0,"x":230,"y":0.0047},{"s":"k","r":1,"c":0,"x":430,"y":0.0023},{"s":"k","r":1,"c":0,"x":630,"y":0.0011},{"s":"k","r":1,"c":0,"x":830,"y":0.00031},{"s":"k","r":1,"c":0,"x":1030,"y":0},{"s":"k","r":1,"c":0,"x":1230,"y":-0.00005},{"s":"k","r":1,"c":0,"x":1630,"y":-0.00011},{"s":"k","r":1,"c":0,"x":2000,"y":-0.00024},
{"s":"r","r":1,"c":0,"x":87,"y":0.0089},{"s":"r","r":1,"c":0,"x":300,"y":0.0036},{"s":"r","r":1,"c":0,"x":570,"y":0.00138},{"s":"r","r":1,"c":0,"x":900,"y":0.00017},{"s":"r","r":1,"c":0,"x":1230,"y":-0.00005},{"s":"r","r":1,"c":0,"x":1630,"y":-0.00011},{"s":"r","r":1,"c":0,"x":2000,"y":-0.00031},
{"s":"b","r":1,"c":1,"x":67,"y":0.0104},{"s":"b","r":1,"c":1,"x":300,"y":0.0060},{"s":"b","r":1,"c":1,"x":570,"y":0.0039},{"s":"b","r":1,"c":1,"x":900,"y":0.0030},{"s":"b","r":1,"c":1,"x":1230,"y":0.0025},{"s":"b","r":1,"c":1,"x":1570,"y":0.0023},{"s":"b","r":1,"c":1,"x":2000,"y":0.0023},
{"s":"k","r":1,"c":1,"x":67,"y":0.0112},{"s":"k","r":1,"c":1,"x":300,"y":0.0065},{"s":"k","r":1,"c":1,"x":570,"y":0.0043},{"s":"k","r":1,"c":1,"x":900,"y":0.0033},{"s":"k","r":1,"c":1,"x":1230,"y":0.0025},{"s":"k","r":1,"c":1,"x":1570,"y":0.0023},{"s":"k","r":1,"c":1,"x":2000,"y":0.0023},
{"s":"r","r":1,"c":1,"x":67,"y":0.0112},{"s":"r","r":1,"c":1,"x":300,"y":0.0070},{"s":"r","r":1,"c":1,"x":570,"y":0.0047},{"s":"r","r":1,"c":1,"x":900,"y":0.0036},{"s":"r","r":1,"c":1,"x":1230,"y":0.0030},{"s":"r","r":1,"c":1,"x":1570,"y":0.0025},{"s":"r","r":1,"c":1,"x":2000,"y":0.0023},
{"s":"b","r":1,"c":2,"x":67,"y":0.0060},{"s":"b","r":1,"c":2,"x":130,"y":0.0011},{"s":"b","r":1,"c":2,"x":230,"y":-0.00011},{"s":"b","r":1,"c":2,"x":430,"y":-0.00075},{"s":"b","r":1,"c":2,"x":700,"y":-0.00124},{"s":"b","r":1,"c":2,"x":1100,"y":-0.00171},{"s":"b","r":1,"c":2,"x":1430,"y":-0.0021},{"s":"b","r":1,"c":2,"x":2000,"y":-0.0021},
{"s":"k","r":1,"c":2,"x":67,"y":0.0065},{"s":"k","r":1,"c":2,"x":170,"y":0.0019},{"s":"k","r":1,"c":2,"x":300,"y":0.00075},{"s":"k","r":1,"c":2,"x":430,"y":0.00017},{"s":"k","r":1,"c":2,"x":630,"y":-0.00024},{"s":"k","r":1,"c":2,"x":900,"y":-0.00046},{"s":"k","r":1,"c":2,"x":1230,"y":-0.00075},{"s":"k","r":1,"c":2,"x":1570,"y":-0.00098},{"s":"k","r":1,"c":2,"x":2000,"y":-0.00124},
{"s":"r","r":1,"c":2,"x":67,"y":0.0070},{"s":"r","r":1,"c":2,"x":300,"y":0.0039},{"s":"r","r":1,"c":2,"x":570,"y":0.0011},{"s":"r","r":1,"c":2,"x":830,"y":-0.00011},{"s":"r","r":1,"c":2,"x":1100,"y":-0.00075},{"s":"r","r":1,"c":2,"x":1430,"y":-0.00138},{"s":"r","r":1,"c":2,"x":2000,"y":-0.0021},
{"s":"b","r":1,"c":3,"x":40,"y":0.0047},{"s":"b","r":1,"c":3,"x":107,"y":0.0011},{"s":"b","r":1,"c":3,"x":207,"y":-0.00046},{"s":"b","r":1,"c":3,"x":340,"y":-0.0011},{"s":"b","r":1,"c":3,"x":600,"y":-0.00124},{"s":"b","r":1,"c":3,"x":940,"y":-0.00098},{"s":"b","r":1,"c":3,"x":1270,"y":-0.00075},{"s":"b","r":1,"c":3,"x":1600,"y":-0.00065},{"s":"b","r":1,"c":3,"x":2000,"y":-0.00075},
{"s":"k","r":1,"c":3,"x":40,"y":0.0082},{"s":"k","r":1,"c":3,"x":207,"y":0.0039},{"s":"k","r":1,"c":3,"x":340,"y":0.00138},{"s":"k","r":1,"c":3,"x":470,"y":0.00031},{"s":"k","r":1,"c":3,"x":600,"y":-0.00011},{"s":"k","r":1,"c":3,"x":810,"y":-0.00031},{"s":"k","r":1,"c":3,"x":1070,"y":-0.00046},{"s":"k","r":1,"c":3,"x":1400,"y":-0.00055},{"s":"k","r":1,"c":3,"x":2000,"y":-0.00065},
{"s":"r","r":1,"c":3,"x":40,"y":0.0104},{"s":"r","r":1,"c":3,"x":270,"y":0.0055},{"s":"r","r":1,"c":3,"x":470,"y":0.0025},{"s":"r","r":1,"c":3,"x":740,"y":0.00038},{"s":"r","r":1,"c":3,"x":940,"y":-0.00011},{"s":"r","r":1,"c":3,"x":1270,"y":-0.00046},{"s":"r","r":1,"c":3,"x":1600,"y":-0.00075},{"s":"r","r":1,"c":3,"x":2000,"y":-0.00138},
{"s":"b","r":1,"c":4,"x":40,"y":0.0039},{"s":"b","r":1,"c":4,"x":270,"y":0.0023},{"s":"b","r":1,"c":4,"x":600,"y":0.00138},{"s":"b","r":1,"c":4,"x":940,"y":0.00098},{"s":"b","r":1,"c":4,"x":1270,"y":0.00075},{"s":"b","r":1,"c":4,"x":1600,"y":0.00075},{"s":"b","r":1,"c":4,"x":2000,"y":0.00065},
{"s":"k","r":1,"c":4,"x":40,"y":0.0070},{"s":"k","r":1,"c":4,"x":200,"y":0.0055},{"s":"k","r":1,"c":4,"x":470,"y":0.0036},{"s":"k","r":1,"c":4,"x":800,"y":0.0025},{"s":"k","r":1,"c":4,"x":1140,"y":0.0023},{"s":"k","r":1,"c":4,"x":1470,"y":0.0019},{"s":"k","r":1,"c":4,"x":1800,"y":0.00171},{"s":"k","r":1,"c":4,"x":2000,"y":0.00154},
{"s":"r","r":1,"c":4,"x":40,"y":0.0076},{"s":"r","r":1,"c":4,"x":270,"y":0.0055},{"s":"r","r":1,"c":4,"x":600,"y":0.0039},{"s":"r","r":1,"c":4,"x":940,"y":0.0028},{"s":"r","r":1,"c":4,"x":1270,"y":0.0023},{"s":"r","r":1,"c":4,"x":1600,"y":0.00171},{"s":"r","r":1,"c":4,"x":2000,"y":0.00138},
{"s":"b","r":1,"c":5,"x":40,"y":0.0030},{"s":"b","r":1,"c":5,"x":140,"y":0.00031},{"s":"b","r":1,"c":5,"x":270,"y":-0.00024},{"s":"b","r":1,"c":5,"x":600,"y":-0.00046},{"s":"b","r":1,"c":5,"x":1270,"y":-0.00055},{"s":"b","r":1,"c":5,"x":2000,"y":-0.00055},
{"s":"k","r":1,"c":5,"x":40,"y":0.0025},{"s":"k","r":1,"c":5,"x":140,"y":0.00038},{"s":"k","r":1,"c":5,"x":270,"y":-0.00011},{"s":"k","r":1,"c":5,"x":600,"y":-0.00031},{"s":"k","r":1,"c":5,"x":1270,"y":-0.00046},{"s":"k","r":1,"c":5,"x":2000,"y":-0.00055},
{"s":"r","r":1,"c":5,"x":40,"y":0.0030},{"s":"r","r":1,"c":5,"x":200,"y":0.00055},{"s":"r","r":1,"c":5,"x":400,"y":0},{"s":"r","r":1,"c":5,"x":740,"y":-0.00031},{"s":"r","r":1,"c":5,"x":1270,"y":-0.00046},{"s":"r","r":1,"c":5,"x":2000,"y":-0.00055},
{"s":"b","r":2,"c":0,"x":67,"y":0.0131},{"s":"b","r":2,"c":0,"x":300,"y":0.0060},{"s":"b","r":2,"c":0,"x":570,"y":0.0036},{"s":"b","r":2,"c":0,"x":900,"y":0.0023},{"s":"b","r":2,"c":0,"x":1230,"y":0.00154},{"s":"b","r":2,"c":0,"x":1570,"y":0.00138},{"s":"b","r":2,"c":0,"x":2000,"y":0.00098},
{"s":"k","r":2,"c":0,"x":67,"y":0.0131},{"s":"k","r":2,"c":0,"x":300,"y":0.0060},{"s":"k","r":2,"c":0,"x":570,"y":0.0033},{"s":"k","r":2,"c":0,"x":900,"y":0.0023},{"s":"k","r":2,"c":0,"x":1230,"y":0.00154},{"s":"k","r":2,"c":0,"x":1570,"y":0.00124},{"s":"k","r":2,"c":0,"x":2000,"y":0.00098},
{"s":"r","r":2,"c":0,"x":67,"y":0.0141},{"s":"r","r":2,"c":0,"x":300,"y":0.0065},{"s":"r","r":2,"c":0,"x":570,"y":0.0036},{"s":"r","r":2,"c":0,"x":900,"y":0.0023},{"s":"r","r":2,"c":0,"x":1230,"y":0.00154},{"s":"r","r":2,"c":0,"x":1570,"y":0.00124},{"s":"r","r":2,"c":0,"x":2000,"y":0.00098},
{"s":"b","r":2,"c":1,"x":67,"y":0.0258},{"s":"b","r":2,"c":1,"x":300,"y":0.0153},{"s":"b","r":2,"c":1,"x":570,"y":0.0112},{"s":"b","r":2,"c":1,"x":900,"y":0.0089},{"s":"b","r":2,"c":1,"x":1230,"y":0.0082},{"s":"b","r":2,"c":1,"x":1570,"y":0.0076},{"s":"b","r":2,"c":1,"x":2000,"y":0.0076},
{"s":"k","r":2,"c":1,"x":67,"y":0.024},{"s":"k","r":2,"c":1,"x":300,"y":0.0153},{"s":"k","r":2,"c":1,"x":570,"y":0.0112},{"s":"k","r":2,"c":1,"x":900,"y":0.0089},{"s":"k","r":2,"c":1,"x":1230,"y":0.0082},{"s":"k","r":2,"c":1,"x":1570,"y":0.0076},{"s":"k","r":2,"c":1,"x":2000,"y":0.0076},
{"s":"r","r":2,"c":1,"x":67,"y":0.0258},{"s":"r","r":2,"c":1,"x":300,"y":0.0153},{"s":"r","r":2,"c":1,"x":570,"y":0.0112},{"s":"r","r":2,"c":1,"x":900,"y":0.0096},{"s":"r","r":2,"c":1,"x":1230,"y":0.0082},{"s":"r","r":2,"c":1,"x":1570,"y":0.0076},{"s":"r","r":2,"c":1,"x":2000,"y":0.0076},
{"s":"b","r":2,"c":2,"x":67,"y":0.0153},{"s":"b","r":2,"c":2,"x":300,"y":0.0070},{"s":"b","r":2,"c":2,"x":570,"y":0.0036},{"s":"b","r":2,"c":2,"x":830,"y":0.0019},{"s":"b","r":2,"c":2,"x":1170,"y":0.00086},{"s":"b","r":2,"c":2,"x":1430,"y":0.00055},{"s":"b","r":2,"c":2,"x":1650,"y":0.00038},
{"s":"k","r":2,"c":2,"x":67,"y":0.0165},{"s":"k","r":2,"c":2,"x":300,"y":0.0082},{"s":"k","r":2,"c":2,"x":570,"y":0.0039},{"s":"k","r":2,"c":2,"x":900,"y":0.0025},{"s":"k","r":2,"c":2,"x":1230,"y":0.0019},{"s":"k","r":2,"c":2,"x":1570,"y":0.00138},{"s":"k","r":2,"c":2,"x":1770,"y":0.00075},{"s":"k","r":2,"c":2,"x":2000,"y":0.00065},
{"s":"r","r":2,"c":2,"x":67,"y":0.0165},{"s":"r","r":2,"c":2,"x":300,"y":0.0082},{"s":"r","r":2,"c":2,"x":570,"y":0.0039},{"s":"r","r":2,"c":2,"x":830,"y":0.0025},{"s":"r","r":2,"c":2,"x":1100,"y":0.00154},{"s":"r","r":2,"c":2,"x":1330,"y":0.00086},{"s":"r","r":2,"c":2,"x":1570,"y":0.00038},{"s":"r","r":2,"c":2,"x":1770,"y":0.00011},{"s":"r","r":2,"c":2,"x":2000,"y":-0.00011},
{"s":"b","r":2,"c":3,"x":30,"y":0.0089},{"s":"b","r":2,"c":3,"x":167,"y":0.0025},{"s":"b","r":2,"c":3,"x":367,"y":0.00031},{"s":"b","r":2,"c":3,"x":567,"y":-0.00065},{"s":"b","r":2,"c":3,"x":833,"y":-0.00124},{"s":"b","r":2,"c":3,"x":1167,"y":-0.00171},{"s":"b","r":2,"c":3,"x":1500,"y":-0.0021},{"s":"b","r":2,"c":3,"x":2000,"y":-0.0021},
{"s":"k","r":2,"c":3,"x":33,"y":0.0070},{"s":"k","r":2,"c":3,"x":233,"y":0.0030},{"s":"k","r":2,"c":3,"x":367,"y":0.00086},{"s":"k","r":2,"c":3,"x":500,"y":0},{"s":"k","r":2,"c":3,"x":833,"y":-0.00124},{"s":"k","r":2,"c":3,"x":1100,"y":-0.00138},{"s":"k","r":2,"c":3,"x":1500,"y":-0.0019},{"s":"k","r":2,"c":3,"x":2000,"y":-0.0021},
{"s":"r","r":2,"c":3,"x":100,"y":0.0131},{"s":"r","r":2,"c":3,"x":300,"y":0.0060},{"s":"r","r":2,"c":3,"x":500,"y":0.0019},{"s":"r","r":2,"c":3,"x":700,"y":0.00038},{"s":"r","r":2,"c":3,"x":900,"y":-0.00024},{"s":"r","r":2,"c":3,"x":1167,"y":-0.00098},{"s":"r","r":2,"c":3,"x":1500,"y":-0.00171},{"s":"r","r":2,"c":3,"x":2000,"y":-0.0021},
{"s":"b","r":2,"c":4,"x":33,"y":0.0131},{"s":"b","r":2,"c":4,"x":167,"y":0.0036},{"s":"b","r":2,"c":4,"x":367,"y":0.00031},{"s":"b","r":2,"c":4,"x":567,"y":-0.00098},{"s":"b","r":2,"c":4,"x":833,"y":-0.0021},{"s":"b","r":2,"c":4,"x":1167,"y":-0.0023},{"s":"b","r":2,"c":4,"x":1500,"y":-0.0025},{"s":"b","r":2,"c":4,"x":2000,"y":-0.0028},
{"s":"k","r":2,"c":4,"x":50,"y":0.0104},{"s":"k","r":2,"c":4,"x":233,"y":0.0019},{"s":"k","r":2,"c":4,"x":433,"y":-0.00065},{"s":"k","r":2,"c":4,"x":633,"y":-0.0021},{"s":"k","r":2,"c":4,"x":967,"y":-0.0023},{"s":"k","r":2,"c":4,"x":1500,"y":-0.0028},{"s":"k","r":2,"c":4,"x":2000,"y":-0.0030},
{"s":"r","r":2,"c":4,"x":50,"y":0.0131},{"s":"r","r":2,"c":4,"x":200,"y":0.0025},{"s":"r","r":2,"c":4,"x":367,"y":0.00005},{"s":"r","r":2,"c":4,"x":567,"y":-0.00124},{"s":"r","r":2,"c":4,"x":833,"y":-0.0023},{"s":"r","r":2,"c":4,"x":1167,"y":-0.0030},{"s":"r","r":2,"c":4,"x":2000,"y":-0.0033},
{"s":"b","r":2,"c":5,"x":33,"y":0.0060},{"s":"b","r":2,"c":5,"x":167,"y":0.00154},{"s":"b","r":2,"c":5,"x":367,"y":-0.00046},{"s":"b","r":2,"c":5,"x":567,"y":-0.00124},{"s":"b","r":2,"c":5,"x":833,"y":-0.0021},{"s":"b","r":2,"c":5,"x":1167,"y":-0.0023},{"s":"b","r":2,"c":5,"x":1500,"y":-0.0025},{"s":"b","r":2,"c":5,"x":2000,"y":-0.0028},
{"s":"k","r":2,"c":5,"x":47,"y":0.00075},{"s":"k","r":2,"c":5,"x":100,"y":-0.0021},{"s":"k","r":2,"c":5,"x":167,"y":-0.0043},{"s":"k","r":2,"c":5,"x":300,"y":-0.0043},{"s":"k","r":2,"c":5,"x":567,"y":-0.0036},{"s":"k","r":2,"c":5,"x":967,"y":-0.0033},{"s":"k","r":2,"c":5,"x":1500,"y":-0.0030},{"s":"k","r":2,"c":5,"x":2000,"y":-0.0030},
{"s":"r","r":2,"c":5,"x":33,"y":-0.00065},{"s":"r","r":2,"c":5,"x":100,"y":-0.0051},{"s":"r","r":2,"c":5,"x":167,"y":-0.0055},{"s":"r","r":2,"c":5,"x":300,"y":-0.0051},{"s":"r","r":2,"c":5,"x":567,"y":-0.0043},{"s":"r","r":2,"c":5,"x":967,"y":-0.0036},{"s":"r","r":2,"c":5,"x":1500,"y":-0.0033},{"s":"r","r":2,"c":5,"x":2000,"y":-0.0033}
]},
"facet":{"row":{"field":"r","type":"ordinal","title":"|κ|","header":{"labels":false,"titleOrient":"left","titleFont":"Liberation Serif","titleFontSize":16,"titleFontWeight":"normal","titleColor":"black","titlePadding":0}},"column":{"field":"c","type":"ordinal","title":"Projected Separation (kpc)","header":{"labels":false,"titleOrient":"bottom","titleFont":"Liberation Sans","titleFontSize":16.5,"titleFontWeight":"normal","titleColor":"black","titlePadding":-6}}},
"spacing":0,
"bounds":"flush",
"spec":{
"width":100,"height":102,
"encoding":{
"x":{"field":"x","type":"quantitative","scale":{"domain":[0,2000],"nice":false,"zero":false},"axis":{"values":[0,500,1000,1500,2000],"format":"d","grid":false,"domain":false,"tickSize":-4,"tickColor":"black","labelPadding":8,"labelFontSize":9.5,"labelColor":"black","labelOverlap":false,"labelFlush":false,"title":null}},
"y":{"field":"y","type":"quantitative","scale":{"type":"symlog","constant":0.0007,"domain":[-0.011,0.07],"nice":false,"zero":false},"axis":{"values":[-0.01,-0.001,0,0.001,0.01],"labelExpr":"datum.value === 0 ? '0.0' : '' + datum.value","grid":false,"domain":false,"tickSize":-4,"tickColor":"black","labelPadding":4,"labelFontSize":10,"labelColor":"black","title":null}}
},
"layer":[
{"transform":[{"filter":"datum.zt != null"}],"mark":{"type":"rule","color":"black","strokeDash":[6,4],"strokeWidth":1.2},"encoding":{"x":{"datum":0,"type":"quantitative"},"x2":{"datum":2000},"y":{"datum":0,"type":"quantitative"}}},
{"transform":[{"filter":"datum.s == 'b'"}],"mark":{"type":"line","color":"#0000ff","strokeDash":[8,5],"strokeWidth":2.8,"clip":true}},
{"transform":[{"filter":"datum.s == 'k'"}],"mark":{"type":"line","color":"black","strokeDash":[2.5,4],"strokeWidth":2.6,"clip":true}},
{"transform":[{"filter":"datum.s == 'r'"}],"mark":{"type":"line","color":"#ff0000","strokeWidth":1.2,"clip":true}},
{"transform":[{"filter":"datum.l != null"}],"mark":{"type":"rule","color":"#ff3030","strokeWidth":1,"clip":true},"encoding":{"y":{"field":"l","type":"quantitative"},"y2":{"field":"h"}}},
{"transform":[{"filter":"datum.l != null"}],"mark":{"type":"tick","orient":"horizontal","color":"#ff3030","size":6,"thickness":1,"clip":true},"encoding":{"y":{"field":"l","type":"quantitative"}}},
{"transform":[{"filter":"datum.l != null"}],"mark":{"type":"tick","orient":"horizontal","color":"#ff3030","size":6,"thickness":1,"clip":true},"encoding":{"y":{"field":"h","type":"quantitative"}}},
{"transform":[{"filter":"datum.l != null"}],"mark":{"type":"circle","color":"#ff0000","size":24,"opacity":1,"clip":true}},
{"transform":[{"filter":"datum.zt != null"}],"mark":{"type":"text","align":"right","baseline":"middle","dx":-2,"fontSize":10.5,"font":"Liberation Sans","color":"black"},"encoding":{"x":{"datum":2000,"type":"quantitative"},"y":{"datum":0.045,"type":"quantitative"},"text":{"field":"zt"}}},
{"transform":[{"filter":"datum.zt != null"}],"mark":{"type":"text","align":"right","baseline":"middle","dx":-28.6,"dy":2.5,"fontSize":8.5,"font":"Liberation Serif","fontStyle":"italic","color":"black"},"encoding":{"x":{"datum":2000,"type":"quantitative"},"y":{"datum":0.045,"type":"quantitative"},"text":{"value":"mid"}}},
{"transform":[{"filter":"datum.zt != null"}],"mark":{"type":"text","align":"right","baseline":"middle","dx":-41.5,"fontSize":11.5,"font":"Liberation Serif","fontStyle":"italic","color":"black"},"encoding":{"x":{"datum":2000,"type":"quantitative"},"y":{"datum":0.045,"type":"quantitative"},"text":{"value":"z"}}},
{"transform":[{"filter":"datum.zt != null"}],"mark":{"type":"text","align":"right","baseline":"middle","dx":-2,"fontSize":10.5,"font":"Liberation Sans","color":"black"},"encoding":{"x":{"datum":2000,"type":"quantitative"},"y":{"datum":0.022,"type":"quantitative"},"text":{"field":"mt"}}},
{"transform":[{"filter":"datum.zt != null"}],"mark":{"type":"text","align":"right","baseline":"middle","dx":-47.5,"dy":2.5,"fontSize":8.5,"font":"Liberation Serif","fontStyle":"italic","color":"black"},"encoding":{"x":{"datum":2000,"type":"quantitative"},"y":{"datum":0.022,"type":"quantitative"},"text":{"value":"mid"}}},
{"transform":[{"filter":"datum.zt != null"}],"mark":{"type":"text","align":"right","baseline":"middle","dx":-60.5,"fontSize":11.5,"font":"Liberation Serif","fontStyle":"italic","color":"black"},"encoding":{"x":{"datum":2000,"type":"quantitative"},"y":{"datum":0.022,"type":"quantitative"},"text":{"value":"M"}}},
{"transform":[{"filter":"datum.zt != null"}],"mark":{"type":"text","align":"right","baseline":"middle","dx":-2,"fontSize":10.5,"font":"Liberation Sans","color":"black"},"encoding":{"x":{"datum":2000,"type":"quantitative"},"y":{"datum":0.0088,"type":"quantitative"},"text":{"field":"ch"}}}
]
}
}
